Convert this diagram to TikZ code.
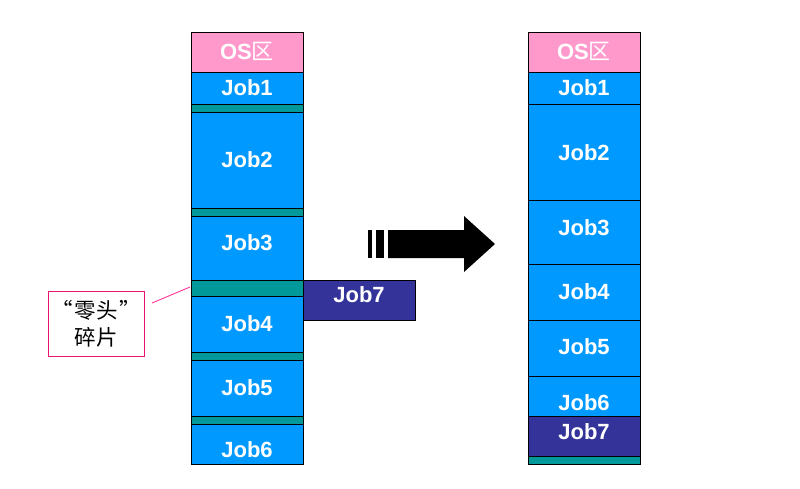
\documentclass[tikz,border=0pt]{standalone}
\usepackage{fontspec}
\setmainfont{Liberation Sans}
\newfontfamily\cjk{Noto Sans CJK SC}
\definecolor{jobblue}{RGB}{0,153,255}
\definecolor{gapteal}{RGB}{0,153,153}
\definecolor{ospink}{RGB}{255,153,204}
\definecolor{jobpurple}{RGB}{51,51,153}
\definecolor{callpink}{RGB}{230,20,110}
\definecolor{linepink}{RGB}{255,51,153}
\tikzset{
  blk/.style={draw=black, line width=0.9pt, inner sep=0pt, minimum width=112pt, fill=jobblue,
    text=white, font=\fontsize{22}{22}\selectfont\bfseries, text height=15.8pt, text depth=0pt},
  gap/.style={draw=black, line width=0.9pt, inner sep=0pt, minimum width=112pt, fill=gapteal},
  osblk/.style={blk, fill=ospink},
  purpleblk/.style={blk, fill=jobpurple},
  jt/.style={text=white, font=\fontsize{22}{22}\selectfont\bfseries, text height=15.8pt, text depth=0pt, inner sep=0pt},
  callbox/.style={draw=callpink, line width=0.9pt, inner sep=0pt, minimum width=96pt, minimum height=65pt,
    font=\cjk\fontsize{21.5}{28}\selectfont, align=center}
}
\begin{document}
\begin{tikzpicture}[x=1pt,y=-1pt]
\useasboundingbox (0,0) rectangle (800,488);
% left column
\node[osblk, minimum height=40pt] (LOS) at (247,52) {OS{\cjk\fontsize{22}{22}\selectfont\mdseries 区}};
\node[blk, minimum height=32pt] (L1) at (247,88) {Job1};
\node[gap, minimum height=8pt] (Lg1) at (247,108) {};
\node[blk, minimum height=96pt] (L2) at (247,160) {Job2};
\node[gap, minimum height=8pt] (Lg2) at (247,212) {};
\node[blk, minimum height=64pt, label={[jt, yshift=5pt]center:Job3}] (L3) at (247,248) {};
\node[gap, minimum height=16pt] (Lg3) at (247,288) {};
\node[blk, minimum height=56pt] (L4) at (247,324) {Job4};
\node[gap, minimum height=8pt] (Lg4) at (247,356) {};
\node[blk, minimum height=56pt] (L5) at (247,388) {Job5};
\node[gap, minimum height=8pt] (Lg5) at (247,420) {};
\node[blk, minimum height=40pt, label={[jt, yshift=-6pt]center:Job6}] (L6) at (247,444) {};
% job7 waiting
\node[purpleblk, minimum height=40pt, label={[jt, yshift=5pt]center:Job7}] (J7) at (359,300) {};
% right column
\node[osblk, minimum height=40pt] (ROS) at (584,52) {OS{\cjk\fontsize{22}{22}\selectfont\mdseries 区}};
\node[blk, minimum height=32pt] (R1) at (584,88) {Job1};
\node[blk, minimum height=96pt, label={[jt, yshift=-1pt]center:Job2}] (R2) at (584,152) {};
\node[blk, minimum height=64pt, label={[jt, yshift=4pt]center:Job3}] (R3) at (584,232) {};
\node[blk, minimum height=56pt] (R4) at (584,292) {Job4};
\node[blk, minimum height=56pt, label={[jt, yshift=1pt]center:Job5}] (R5) at (584,348) {};
\node[blk, minimum height=40pt, label={[jt, yshift=-7pt]center:Job6}] (R6) at (584,396) {};
\node[purpleblk, minimum height=40pt, label={[jt, yshift=4pt]center:Job7}] (R7) at (584,436) {};
\node[gap, minimum height=8pt] (Rg) at (584,460) {};
% big arrow
\fill[black] (368,230) rectangle (372,258);
\fill[black] (376,230) rectangle (384,258);
\fill[black] (388,230) -- (464,230) -- (464,216) -- (495,244) -- (464,272) -- (464,258) -- (388,258) -- cycle;
% callout
\node[callbox] (call) at (96,323.5) {“\hspace{2pt}零头\hspace{2pt}”\\[-1pt]碎片};
\coordinate (c1) at (152,303);
\coordinate (c2) at (190,287);
\draw[linepink, line width=0.9pt] (c1) -- (c2);
\end{tikzpicture}
\end{document}
